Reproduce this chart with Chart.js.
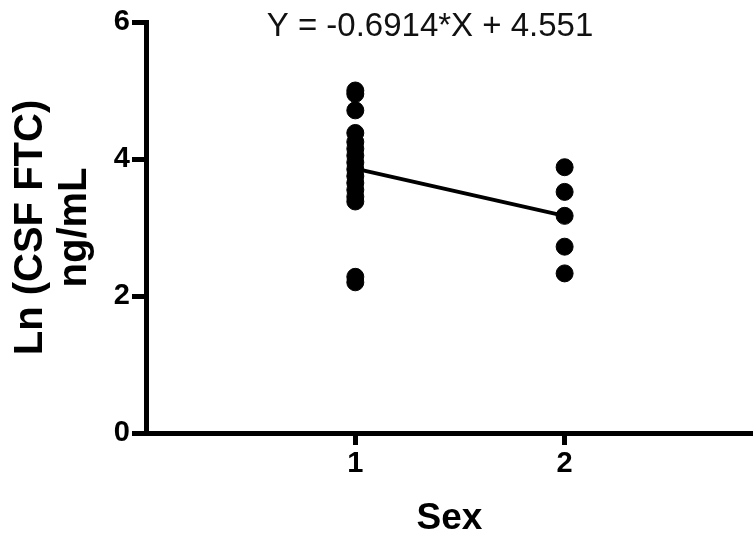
<!DOCTYPE html>
<html>
<head>
<meta charset="utf-8">
<script src="https://cdn.jsdelivr.net/npm/chart.js@4"></script>
<style>
  html, body { margin: 0; padding: 0; background: #fff; }
  #wrap { width: 753px; height: 535px; }
</style>
</head>
<body>
<div id="wrap"><canvas id="chart"></canvas></div>
<script>
/* ---- Data ---- */
const sexLevels = [1, 2];
const csfMale = [5.0, 4.95, 4.71, 4.38, 4.25, 4.15, 4.05, 3.95, 3.85, 3.75, 3.65, 3.55, 3.45, 3.38, 2.28, 2.2];
const csfFemale = [3.88, 3.52, 3.17, 2.72, 2.33];
const fitLine = [3.86, 3.17];   // fitted values at Sex = 1 and 2
const yTicks = [0, 2, 4, 6];
const xTicks = [1, 2];
const equationText = 'Y = -0.6914*X + 4.551';

const FONT = '"Liberation Sans", Arial, Helvetica, sans-serif';

const points = [];
csfMale.forEach(v => points.push({ x: sexLevels[0], y: v }));
csfFemale.forEach(v => points.push({ x: sexLevels[1], y: v }));

// equation text at the top of the plot
const equationPlugin = {
    id: 'equation',
    afterDraw(chart) {
        const ctx = chart.ctx;
        ctx.save();
        ctx.font = '33px ' + FONT;
        ctx.fillStyle = '#111';
        ctx.textAlign = 'center';
        ctx.textBaseline = 'middle';
        ctx.fillText(equationText, 430, 27);
        ctx.restore();
    }
};

new Chart(document.getElementById('chart'), {
    type: 'scatter',
    data: {
        datasets: [
            {
                data: points,
                backgroundColor: '#000',
                borderColor: '#000',
                pointRadius: 8.5,
                pointHoverRadius: 8.5
            },
            {
                type: 'line',
                data: sexLevels.map((s, i) => ({ x: s, y: fitLine[i] })),
                borderColor: '#000',
                borderWidth: 4,
                pointRadius: 0,
                fill: false
            }
        ]
    },
    options: {
        responsive: true,
        maintainAspectRatio: false,
        animation: false,
        layout: { autoPadding: false, padding: { top: 22, right: 0, bottom: 0, left: 0 } },
        plugins: {
            legend: { display: false },
            tooltip: { enabled: false }
        },
        scales: {
            x: {
                type: 'linear',
                min: 0,
                max: 2.9,
                afterBuildTicks: s => { s.ticks = xTicks.map(v => ({ value: v })); },
                afterFit: s => { s.height = 102; s.paddingLeft = 0; s.paddingRight = 0; },
                grid: { drawOnChartArea: false, drawTicks: true, tickLength: 12, tickWidth: 5, tickColor: '#000' },
                border: { display: true, color: '#000', width: 5 },
                ticks: { color: '#000', padding: 2, font: { family: FONT, size: 29, weight: 'bold' } },
                title: {
                    display: true,
                    text: 'Sex',
                    color: '#000',
                    padding: { top: 0, bottom: 0 },
                    font: { family: FONT, size: 37, weight: 'bold', lineHeight: 0.85 }
                }
            },
            y: {
                min: 0,
                max: 6,
                afterBuildTicks: s => { s.ticks = yTicks.map(v => ({ value: v })); },
                afterFit: s => { s.width = 146; s.paddingTop = 0; s.paddingBottom = 0; },
                grid: { drawOnChartArea: false, drawTicks: true, tickLength: 14, tickWidth: 5, tickColor: '#000' },
                border: { display: true, color: '#000', width: 5 },
                ticks: { color: '#000', padding: 2, font: { family: FONT, size: 29, weight: 'bold' } },
                title: {
                    display: true,
                    text: ['Ln (CSF FTC)', 'ng/mL'],
                    color: '#000',
                    padding: { top: 9, bottom: 0 },
                    font: { family: FONT, size: 40, weight: 'bold', lineHeight: 1.1 }
                }
            }
        }
    },
    plugins: [equationPlugin]
});
</script>
</body>
</html>
